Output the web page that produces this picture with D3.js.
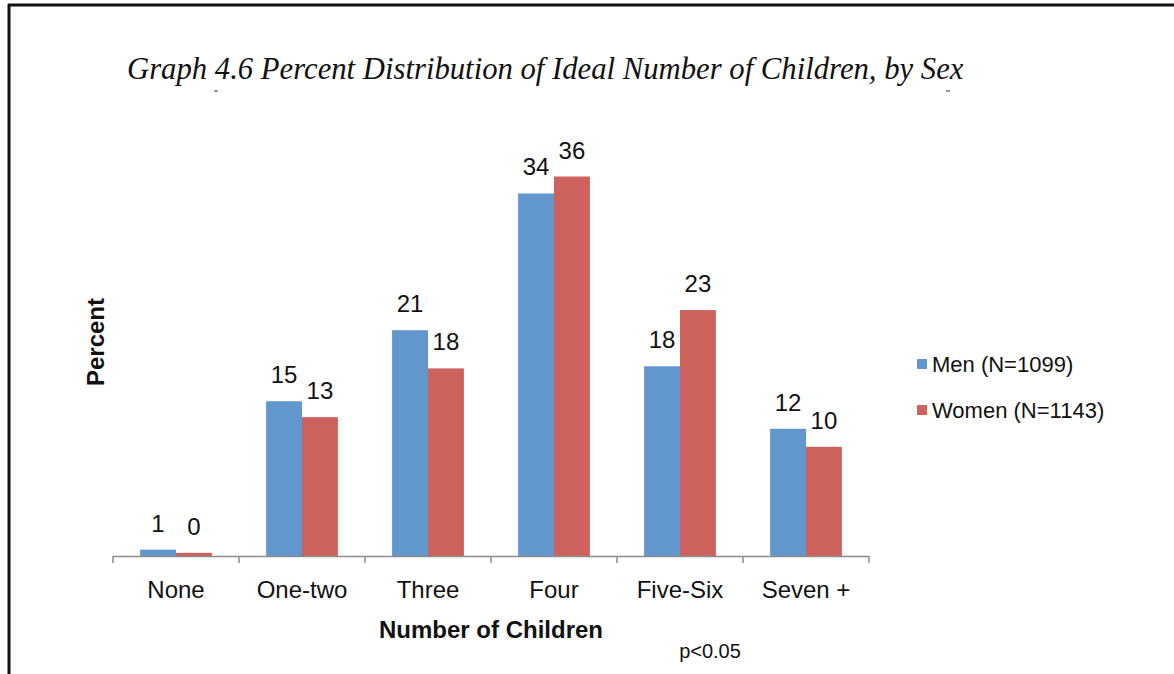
<!DOCTYPE html>
<html><head><meta charset="utf-8">
<script src="https://cdn.jsdelivr.net/npm/d3@7"></script>
<style>body{margin:0;background:#fff}svg{display:block}</style>
</head><body>
<script>
const categories = ["None","One-two","Three","Four","Five-Six","Seven +"];
const seriesNames = ["Men (N=1099)","Women (N=1143)"];
const menValues = [0.6, 14.6, 21.3, 34.2, 17.9, 12.0];
const womenValues = [0.3, 13.1, 17.7, 35.8, 23.2, 10.3];
const colors = ["#6197CC","#CD625D"];

const W = 1174, H = 674;
const svg = d3.select("body").append("svg").attr("width", W).attr("height", H);
const font = "'Liberation Sans', Arial, sans-serif";

// frame lines
svg.append("line").attr("x1",8).attr("x2",W).attr("y1",5).attr("y2",5).attr("stroke","#111").attr("stroke-width",3);
svg.append("line").attr("x1",9).attr("x2",9).attr("y1",4).attr("y2",H).attr("stroke","#111").attr("stroke-width",3);

// title
svg.append("text").attr("x",127).attr("y",79)
  .attr("font-family","'Liberation Serif','DejaVu Serif',serif").attr("font-style","italic")
  .attr("font-size",30.7).attr("fill","#111")
  .text("Graph 4.6 Percent Distribution of Ideal Number of Children, by Sex");
svg.append("line").attr("x1",214).attr("x2",218).attr("y1",91).attr("y2",91).attr("stroke","#333");
svg.append("line").attr("x1",946).attr("x2",950).attr("y1",91).attr("y2",91).attr("stroke","#333");

const x0 = 113, x1 = 869, yBase = 556;
const x = d3.scaleBand().domain(categories).range([x0, x1]).paddingInner(0.43).paddingOuter(0.215);
const xs = d3.scaleBand().domain([0,1]).range([0, x.bandwidth()]);
const y = d3.scaleLinear().domain([0, 40]).range([yBase, yBase - 424]);

const data = categories.map((c,i)=>({c, v:[menValues[i], womenValues[i]]}));
const g = svg.append("g");
const groups = g.selectAll("g.grp").data(data).join("g").attr("transform", d=>`translate(${x(d.c)},0)`);
groups.selectAll("rect").data(d=>d.v.map((v,k)=>({v,k}))).join("rect")
  .attr("x", d=>xs(d.k)).attr("width", xs.bandwidth())
  .attr("y", d=>y(d.v)).attr("height", d=>y(0)-y(d.v))
  .attr("fill", d=>colors[d.k]);
groups.selectAll("text").data(d=>d.v.map((v,k)=>({v,k}))).join("text")
  .attr("x", d=>xs(d.k)+xs.bandwidth()/2).attr("y", d=>y(d.v)-18)
  .attr("text-anchor","middle").attr("font-family",font).attr("font-size",24).attr("fill","#111")
  .text(d=>d3.format(".0f")(d.v));

// x axis
const boundaries = d3.range(categories.length+1).map(i=>x0 + i*x.step());
svg.append("line").attr("x1",x0).attr("x2",x1).attr("y1",yBase+0.5).attr("y2",yBase+0.5).attr("stroke","#8c8c8c").attr("stroke-width",1.5);
svg.selectAll("line.tick").data(boundaries).join("line").attr("class","tick")
  .attr("x1",d=>d).attr("x2",d=>d).attr("y1",yBase).attr("y2",yBase+7).attr("stroke","#8c8c8c").attr("stroke-width",1.5);
svg.selectAll("text.cat").data(categories).join("text").attr("class","cat")
  .attr("x", d=>x(d)+x.bandwidth()/2).attr("y", 598)
  .attr("text-anchor","middle").attr("font-family",font).attr("font-size",24).attr("fill","#111").text(d=>d);

svg.append("text").attr("x",(x0+x1)/2).attr("y",638).attr("text-anchor","middle")
  .attr("font-family",font).attr("font-weight","bold").attr("font-size",24).attr("fill","#111").text("Number of Children");
svg.append("text").attr("transform","translate(104,342) rotate(-90)").attr("text-anchor","middle")
  .attr("font-family",font).attr("font-weight","bold").attr("font-size",24).attr("fill","#111").text("Percent");
svg.append("text").attr("x",710).attr("y",658).attr("text-anchor","middle")
  .attr("font-family",font).attr("font-size",20).attr("fill","#111").text("p<0.05");

// legend
const leg = svg.selectAll("g.leg").data(seriesNames).join("g").attr("class","leg")
  .attr("transform",(d,i)=>`translate(917,${359+i*46})`);
leg.append("rect").attr("width",10).attr("height",10).attr("fill",(d,i)=>colors[i]);
leg.append("text").attr("x",15).attr("y",13).attr("font-family",font).attr("font-size",22).attr("fill","#111").text(d=>d);
</script>
</body></html>
